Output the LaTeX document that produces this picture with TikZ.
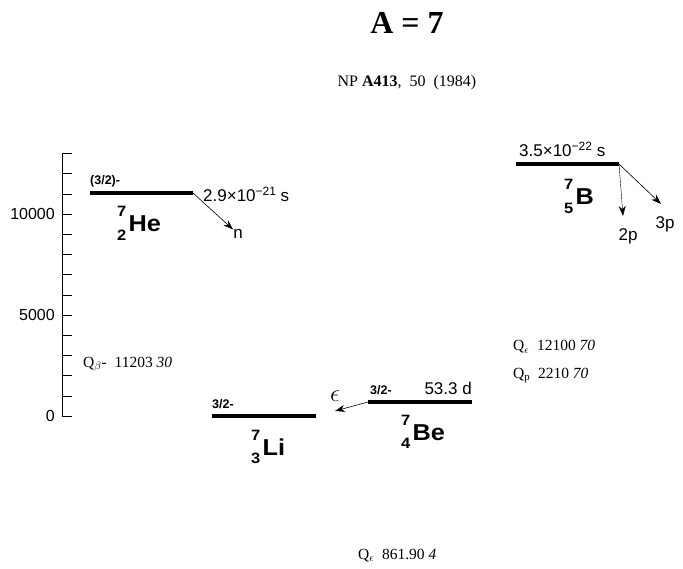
\documentclass[tikz,border=0pt]{standalone}
\usepackage{fontspec}
\setmainfont{Liberation Serif}
\setsansfont{Liberation Sans}
\usetikzlibrary{positioning, arrows.meta}

% simbolo del nuclide: massa sopra, numero atomico sotto
\newcommand{\nuclide}[3]{\scalebox{1.1}[1]{{\fontsize{15}{15}\selectfont\rlap{\raisebox{15pt}{#1}}\raisebox{-8.5pt}{#2}}\kern2pt#3}}
% esponente nelle vite medie
\newcommand{\expo}[1]{\raisebox{6pt}{\fontsize{12}{12}\selectfont #1}}

\begin{document}
\begin{tikzpicture}[x=1pt, y=-1pt]
    % --- CONFIGURAZIONE ---
    \tikzset{
        level_style/.style={line width=3.5pt},
        decay_style/.style={->, >={Stealth[length=10pt, width=7pt]}, semithick},
        tick_style/.style={thin},
        axis_label/.style={font=\sffamily\fontsize{16}{16}\selectfont, anchor=east, inner sep=0pt},
        spin_style/.style={font=\sffamily\bfseries\fontsize{12.5}{12.5}\selectfont, anchor=base west, inner sep=0pt},
        life_style/.style={font=\sffamily\fontsize{17}{17}\selectfont, inner sep=0pt},
        nuc_style/.style={font=\sffamily\bfseries\fontsize{23}{23}\selectfont, anchor=base west, inner sep=0pt},
        q_style/.style={font=\rmfamily\fontsize{15.5}{15.5}\selectfont, anchor=base west, inner sep=0pt}
    }

    % Passo di 1000 keV sull'asse
    \def\S{20.2}
    % Quota dello zero
    \def\Z{416}

    \useasboundingbox (0,0) rectangle (683,569);

    % ===================================================
    % TITOLO
    % ===================================================
    \node[font=\rmfamily\bfseries\fontsize{32}{32}\selectfont, anchor=base] (title) at (407,34) {A = 7};
    \node[font=\rmfamily\fontsize{16}{16}\selectfont, anchor=base] (ref) at (407,87) {NP \textbf{A413},\ \ 50\ \ (1984)};

    % ===================================================
    % ASSE DELLE ENERGIE
    % ===================================================
    \draw[tick_style] (62,\Z) -- (62,{\Z-13*\S});
    \foreach \k in {0,...,13} {
        \draw[tick_style] (62,{\Z-\k*\S}) -- ++(10,0);
    }
    \node[axis_label] (e0) at (55,\Z) {0};
    \node[axis_label] (e5) at (55,{\Z-5*\S}) {5000};
    \node[axis_label] (e10) at (55,{\Z-10*\S}) {10000};

    % ===================================================
    % 7He
    % ===================================================
    \coordinate (he_l) at (90,193);
    \coordinate (he_r) at (193,193);
    \draw[level_style] (he_l) -- (he_r);
    \node[spin_style] (he_spin) at (90,185) {(3/2)-};
    \node[life_style, anchor=base west] (he_life) at (203,202) {2.9×10\expo{−21} s};
    \node[nuc_style] (he) at (117,232) {\nuclide{7}{2}{He}};
    \node[life_style] (n) at (238,234) {n};
    \draw[decay_style] (he_r) -- (n);

    % ===================================================
    % 7Li
    % ===================================================
    \coordinate (li_l) at (212,416);
    \coordinate (li_r) at (316,416);
    \draw[level_style] (li_l) -- (li_r);
    \node[spin_style] (li_spin) at (212,408) {3/2-};
    \node[nuc_style] (li) at (251,455) {\nuclide{7}{3}{Li}};

    % ===================================================
    % 7Be
    % ===================================================
    \coordinate (be_l) at (368,402);
    \coordinate (be_r) at (472,402);
    \draw[level_style] (be_l) -- (be_r);
    \node[spin_style] (be_spin) at (370,395) {3/2-};
    \node[life_style, anchor=base east] (be_life) at (472,395) {53.3 d};
    \node[nuc_style] (be) at (401,440) {\nuclide{7}{4}{Be}};
    \coordinate (eps_tip) at (335,411);
    \node[life_style, font=\fontsize{24}{24}\selectfont] (eps) at (335,396) {$\epsilon$};
    \draw[decay_style] (be_l) -- (eps_tip);

    % ===================================================
    % 7B
    % ===================================================
    \coordinate (b_l) at (516,164);
    \coordinate (b_r) at (619,164);
    \draw[level_style] (b_l) -- (b_r);
    \node[life_style, anchor=base west] (b_life) at (519,157) {3.5×10\expo{−22} s};
    \node[nuc_style] (b) at (564,205) {\nuclide{7}{5}{B}};
    \coordinate (p2_tip) at (623,216);
    \coordinate (p3_tip) at (661,204);
    \node[life_style] (p2) at (628,236) {2p};
    \node[life_style] (p3) at (665,224) {3p};
    \draw[decay_style, thin] (b_r) -- (p2_tip);
    \draw[decay_style] (b_r) -- (p3_tip);

    % ===================================================
    % VALORI Q
    % ===================================================
    \node[q_style] (q_he) at (83,367) {Q$_\beta$-\ \ 11203 \textit{30}};
    \node[q_style] (q_b) at (513,351) {Q$_\epsilon$\ \ 12100 \textit{70}};
    \node[q_style] (q_p) at (513,378) {Q$_\mathrm{p}$\ \ 2210 \textit{70}};
    \node[q_style] (q_be) at (358,559) {Q$_\epsilon$\ \ 861.90 \textit{4}};

\end{tikzpicture}
\end{document}
